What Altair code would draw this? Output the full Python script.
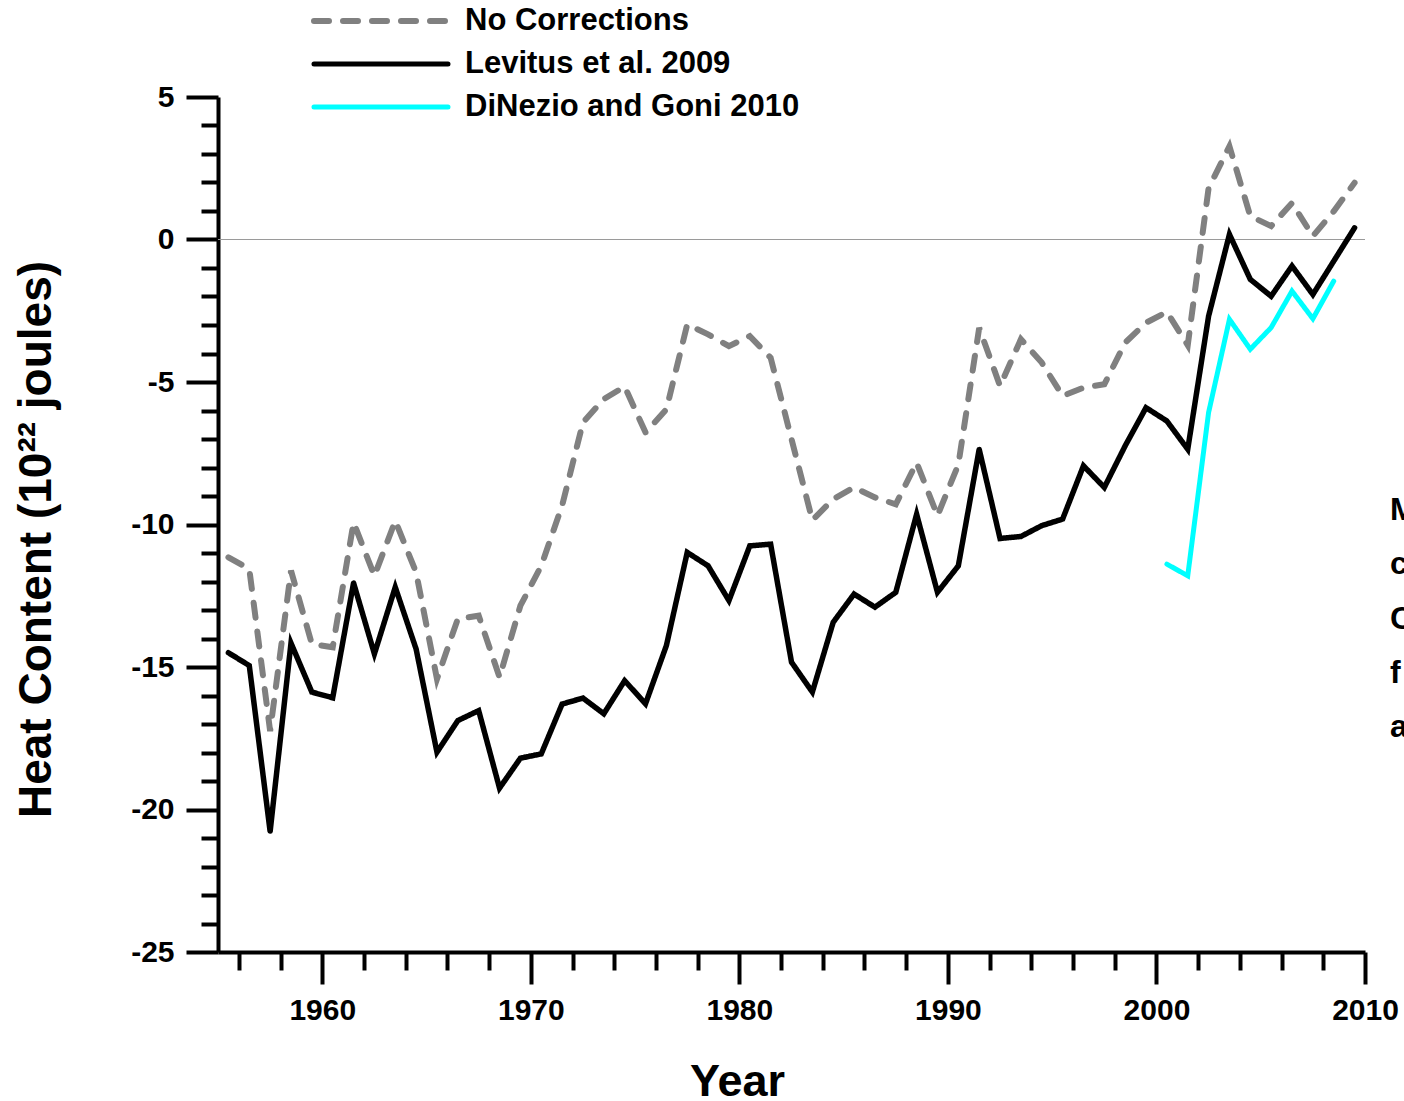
import altair as alt
import pandas as pd

years = [1955.5 + i for i in range(55)]

no_corrections = [
    -11.15, -11.56, -17.25, -11.62, -14.19, -14.31, -9.93, -11.80, -9.87, -11.68,
    -15.42, -13.31, -13.20, -15.36, -12.85, -11.45, -9.34, -6.42, -5.60, -5.16,
    -6.77, -5.96, -2.98, -3.33, -3.74, -3.39, -4.15, -7.00, -9.85, -9.11,
    -8.70, -9.05, -9.29, -7.83, -9.69, -7.90, -3.10, -5.14, -3.50, -4.32,
    -5.49, -5.20, -5.08, -3.62, -2.92, -2.54, -3.71, 1.80, 3.27, 0.82,
    0.47, 1.28, 0.12, 0.99, 1.99,
]

levitus = [
    -14.50, -14.95, -20.77, -14.16, -15.88, -16.08, -12.05, -14.54, -12.20, -14.37,
    -17.99, -16.88, -16.53, -19.25, -18.20, -18.05, -16.30, -16.09, -16.64, -15.48,
    -16.29, -14.25, -10.98, -11.45, -12.67, -10.75, -10.69, -14.83, -15.88, -13.43,
    -12.44, -12.90, -12.38, -9.64, -12.38, -11.45, -7.36, -10.49, -10.42, -10.04,
    -9.81, -7.94, -8.70, -7.24, -5.90, -6.37, -7.36, -2.69, 0.18, -1.40,
    -1.99, -0.93, -1.93, -0.76, 0.41,
]

dinezio_years = [2000.5 + i for i in range(9)]
dinezio = [-11.39, -11.80, -6.07, -2.80, -3.85, -3.09, -1.81, -2.78, -1.46]

series_names = ["No Corrections", "Levitus et al. 2009", "DiNezio and Goni 2010"]
series_colors = ["#808080", "#000000", "#00FFFF"]
series_dash = [[15, 14], [1, 0], [1, 0]]
series_width = [6, 5, 5]

x_ticks = list(range(1956, 2011, 2))
y_ticks = list(range(-25, 6))
side_letters = ["M", "c", "C", "f", "a"]

FONT = "Liberation Sans, Arial, Helvetica, sans-serif"

rows = []
for y, v in zip(years, no_corrections):
    rows.append({"year": y, "value": v, "series": series_names[0]})
for y, v in zip(years, levitus):
    rows.append({"year": y, "value": v, "series": series_names[1]})
for y, v in zip(dinezio_years, dinezio):
    rows.append({"year": y, "value": v, "series": series_names[2]})
df = pd.DataFrame(rows)

x_axis = alt.Axis(
    values=x_ticks,
    tickCount=60,
    title="Year",
    titleFont=FONT,
    titleFontSize=45,
    titleFontWeight="bold",
    titleColor="black",
    titleX=519,
    titleY=143,
    titleAlign="center",
    titleBaseline="alphabetic",
    labelExpr="datum.value % 10 === 0 ? '' + datum.value : ''",
    labelFont=FONT,
    labelFontSize=30,
    labelFontWeight="bold",
    labelColor="black",
    labelPadding=11,
    labelOverlap=False,
    labelFlush=False,
    tickSize={"condition": {"test": "datum.value % 10 === 0", "value": 32}, "value": 18},
    tickWidth=4,
    tickColor="black",
    domainColor="black",
    domainWidth=4,
    grid=False,
)

y_axis = alt.Axis(
    values=y_ticks,
    tickCount=60,
    title="Heat Content (10²² joules)",
    titleFont=FONT,
    titleFontSize=46,
    titleFontWeight="bold",
    titleColor="black",
    titleX=-168,
    titleY=442,
    titleAngle=270,
    titleAlign="center",
    titleBaseline="alphabetic",
    labelExpr="datum.value % 5 === 0 ? '' + datum.value : ''",
    labelFont=FONT,
    labelFontSize=30,
    labelFontWeight="bold",
    labelColor="black",
    labelPadding=12,
    labelOverlap=False,
    tickSize={"condition": {"test": "datum.value % 5 === 0", "value": 32}, "value": 17},
    tickWidth=4,
    tickColor="black",
    domainColor="black",
    domainWidth=4,
    grid=False,
)

zero_line = alt.Chart(pd.DataFrame({"v": [0]})).mark_rule(
    color="#9a9a9a", strokeWidth=1
).encode(y=alt.Y("v:Q"))

lines = alt.Chart(df).mark_line(strokeCap="round").encode(
    x=alt.X("year:Q", scale=alt.Scale(domain=[1955, 2010], nice=False, zero=False), axis=x_axis),
    y=alt.Y("value:Q", scale=alt.Scale(domain=[-25, 5], nice=False, zero=False), axis=y_axis),
    color=alt.Color("series:N", scale=alt.Scale(domain=series_names, range=series_colors), legend=None),
    strokeDash=alt.StrokeDash("series:N", scale=alt.Scale(domain=series_names, range=series_dash), legend=None),
    strokeWidth=alt.StrokeWidth("series:N", scale=alt.Scale(domain=series_names, range=series_width), legend=None),
    detail="series:N",
)

# manual legend
legend_layers = []
legend_rows_y = [-76, -33, 10]
for name, col, dash, w, ly in zip(series_names, series_colors, series_dash, series_width, legend_rows_y):
    ldf = pd.DataFrame({"label": [name]})
    sym = alt.Chart(ldf).mark_rule(
        color=col, strokeDash=dash, strokeWidth=w, strokeCap="round"
    ).encode(x=alt.value(96), x2=alt.value(230), y=alt.value(ly))
    txt = alt.Chart(ldf).mark_text(
        align="left", baseline="middle", font=FONT, fontSize=31, fontWeight="bold", color="black"
    ).encode(text="label:N", x=alt.value(247), y=alt.value(ly))
    legend_layers += [sym, txt]

side_text = alt.Chart(pd.DataFrame({"t": [1]})).mark_text(
    text=side_letters,
    align="left",
    baseline="alphabetic",
    font=FONT,
    fontSize=32,
    fontWeight="bold",
    color="black",
    lineHeight=54.3,
).encode(x=alt.value(1172), y=alt.value(423))

chart = alt.layer(zero_line, lines, *legend_layers, side_text).properties(
    width=1147,
    height=855,
    padding={"left": 218, "top": 97, "right": 39, "bottom": 149},
    autosize=alt.AutoSizeParams(type="none"),
    background="white",
).configure_view(stroke=None)

chart.save("out.html", embed_options={"renderer": "svg", "actions": False})
